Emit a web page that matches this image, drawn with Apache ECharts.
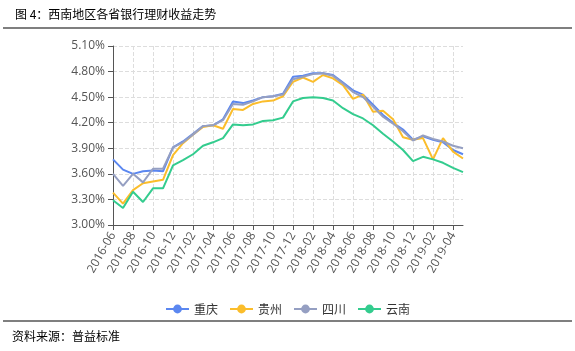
<!DOCTYPE html>
<html>
<head>
<meta charset="utf-8">
<script src="https://cdn.jsdelivr.net/npm/echarts@6/dist/echarts.min.js"></script>
<style>
  html, body { margin: 0; padding: 0; background: #fff; }
  #main { width: 575px; height: 351px; }
</style>
</head>
<body>
<div id="main"></div>
<script>
// 月份
const months = [
  '2016-06', '2016-07', '2016-08', '2016-09', '2016-10', '2016-11', '2016-12',
  '2017-01', '2017-02', '2017-03', '2017-04', '2017-05', '2017-06', '2017-07',
  '2017-08', '2017-09', '2017-10', '2017-11', '2017-12', '2018-01', '2018-02',
  '2018-03', '2018-04', '2018-05', '2018-06', '2018-07', '2018-08', '2018-09',
  '2018-10', '2018-11', '2018-12', '2019-01', '2019-02', '2019-03', '2019-04',
  '2019-05'
];

// 各省收益率 (%)
const chongqing = [
  3.77, 3.65, 3.60, 3.63, 3.64, 3.63, 3.91, 3.98, 4.07, 4.16, 4.17, 4.24,
  4.45, 4.43, 4.46, 4.50, 4.51, 4.54, 4.74, 4.75, 4.78, 4.78, 4.76, 4.67,
  4.58, 4.53, 4.41, 4.29, 4.20, 4.12, 4.00, 4.04, 4.00, 3.97, 3.88, 3.83
];
const guizhou = [
  3.38, 3.25, 3.41, 3.49, 3.51, 3.53, 3.82, 3.96, 4.06, 4.15, 4.17, 4.13,
  4.36, 4.35, 4.42, 4.45, 4.46, 4.51, 4.68, 4.73, 4.68, 4.76, 4.72, 4.64,
  4.48, 4.53, 4.33, 4.34, 4.24, 4.03, 4.00, 4.02, 3.77, 4.02, 3.86, 3.78
];
const sichuan = [
  3.60, 3.46, 3.60, 3.50, 3.66, 3.66, 3.91, 3.97, 4.06, 4.16, 4.17, 4.23,
  4.42, 4.41, 4.45, 4.50, 4.51, 4.53, 4.71, 4.74, 4.77, 4.78, 4.75, 4.66,
  4.56, 4.50, 4.39, 4.27, 4.19, 4.10, 3.99, 4.05, 4.01, 3.98, 3.93, 3.90
];
const yunnan = [
  3.29, 3.20, 3.39, 3.27, 3.43, 3.43, 3.70, 3.76, 3.83, 3.93, 3.97, 4.02,
  4.18, 4.17, 4.18, 4.22, 4.23, 4.26, 4.45, 4.49, 4.50, 4.49, 4.46, 4.37,
  4.30, 4.25, 4.17, 4.07, 3.98, 3.88, 3.75, 3.80, 3.77, 3.73, 3.67, 3.62
];

const seriesNames = ['重庆', '贵州', '四川', '云南'];
const seriesData = [chongqing, guizhou, sichuan, yunnan];
const colors = ['#5b87f0', '#fbbd2b', '#959fc2', '#33cc8e'];

const cjk = '"Noto Sans CJK SC", sans-serif';

const chart = echarts.init(document.getElementById('main'));

const option = {
  animation: false,
  color: colors,
  title: {
    text: '图 4：西南地区各省银行理财收益走势',
    left: 10,
    top: 3,
    textStyle: { fontFamily: cjk, fontSize: 12, fontWeight: 'normal', color: '#000' }
  },
  graphic: [
    {
      type: 'line',
      shape: { x1: 3, y1: 28, x2: 572, y2: 28 },
      style: { stroke: '#000', lineWidth: 1.2 }
    },
    {
      type: 'line',
      shape: { x1: 3, y1: 321, x2: 572, y2: 321 },
      style: { stroke: '#000', lineWidth: 1.2 }
    },
    {
      type: 'text',
      left: 12,
      top: 330,
      style: { text: '资料来源：普益标准', font: '12px ' + cjk, fill: '#000' }
    }
  ],
  legend: {
    data: seriesNames,
    bottom: 38,
    left: 'center',
    top: 298,
    itemWidth: 23,
    itemHeight: 11,
    itemGap: 11,
    textStyle: { fontFamily: cjk, fontSize: 12, color: '#333' }
  },
  grid: {
    left: 113,
    right: 112,
    top: 46,
    bottom: 126
  },
  xAxis: {
    type: 'category',
    data: months,
    boundaryGap: false,
    axisLine: { lineStyle: { color: '#555' } },
    axisTick: { interval: 1, lineStyle: { color: '#555' } },
    axisLabel: {
      interval: 1,
      rotate: 60,
      color: '#555',
      fontSize: 12,
      fontFamily: 'Open Sans'
    },
    splitLine: {
      show: true,
      interval: 1,
      lineStyle: { color: '#ddd', type: 'dashed' }
    }
  },
  yAxis: {
    type: 'value',
    min: 3.0,
    max: 5.1,
    interval: 0.3,
    axisLine: { show: true, lineStyle: { color: '#555' } },
    axisTick: { show: true, lineStyle: { color: '#555' } },
    axisLabel: {
      color: '#555',
      fontSize: 12,
      fontFamily: 'Open Sans',
      formatter: function (v) { return v.toFixed(2) + '%'; }
    },
    splitLine: { lineStyle: { color: '#ddd', type: 'dashed' } }
  },
  series: seriesNames.map(function (name, i) {
    return {
      name: name,
      type: 'line',
      data: seriesData[i],
      symbol: 'circle',
      symbolSize: 8,
      showSymbol: false,
      lineStyle: { width: 2 }
    };
  })
};

chart.setOption(option);
</script>
</body>
</html>
